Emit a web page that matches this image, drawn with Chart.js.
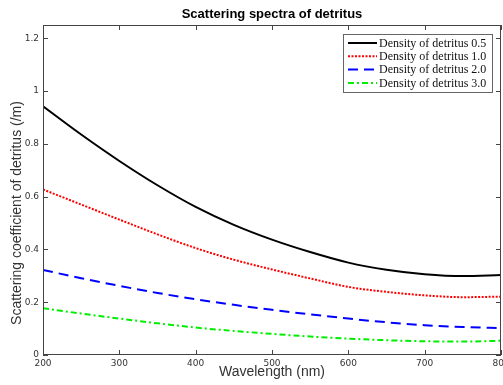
<!DOCTYPE html>
<html>
<head>
<meta charset="utf-8">
<script src="https://cdn.jsdelivr.net/npm/chart.js@4/dist/chart.umd.min.js"></script>
<style>
  html, body { margin: 0; padding: 0; background: #fff; }
  #wrap { width: 503px; height: 385px; }
</style>
</head>
<body>
<div id="wrap"><canvas id="c" width="503" height="385"></canvas></div>
<script>
const wavelengths = [200, 250, 300, 350, 400, 450, 500, 550, 600, 650, 700, 750, 800];
const density05 = [0.942, 0.835, 0.735, 0.643, 0.561, 0.493, 0.437, 0.390, 0.350, 0.323, 0.306, 0.299, 0.303];
const density10 = [0.627, 0.570, 0.513, 0.457, 0.405, 0.361, 0.324, 0.290, 0.258, 0.239, 0.226, 0.219, 0.221];
const density20 = [0.322, 0.291, 0.262, 0.235, 0.211, 0.190, 0.171, 0.154, 0.138, 0.124, 0.113, 0.106, 0.102];
const density30 = [0.177, 0.157, 0.138, 0.120, 0.104, 0.091, 0.080, 0.070, 0.062, 0.056, 0.052, 0.051, 0.054];
const seriesNames = ["Density of detritus 0.5", "Density of detritus 1.0", "Density of detritus 2.0", "Density of detritus 3.0"];
const xTicks = [200, 300, 400, 500, 600, 700, 800];
const yTicks = [0, 0.2, 0.4, 0.6, 0.8, 1, 1.2];

const pts = vals => vals.map((v, i) => ({ x: wavelengths[i], y: v }));
const line = (label, vals, color, dash) => ({
  label, data: pts(vals), borderColor: color, borderWidth: 2, borderDash: dash,
  pointRadius: 0, fill: false, cubicInterpolationMode: "monotone"
});

// matlab-like frame, inward ticks, title, y label and boxed legend
const decor = {
  id: "decor",
  afterDraw(chart) {
    const { ctx, chartArea: a, scales } = chart;
    ctx.save();
    ctx.strokeStyle = "#444"; ctx.lineWidth = 1;
    ctx.strokeRect(a.left + 0.5, a.top + 0.5, a.right - a.left - 1, a.bottom - a.top - 1);
    ctx.beginPath();
    xTicks.forEach(t => {
      const x = Math.round(scales.x.getPixelForValue(t)) + 0.5;
      ctx.moveTo(x, a.bottom); ctx.lineTo(x, a.bottom - 5);
      ctx.moveTo(x, a.top); ctx.lineTo(x, a.top + 5);
    });
    yTicks.forEach(t => {
      const y = Math.round(scales.y.getPixelForValue(t)) + 0.5;
      ctx.moveTo(a.left, y); ctx.lineTo(a.left + 5, y);
      ctx.moveTo(a.right, y); ctx.lineTo(a.right - 5, y);
    });
    ctx.stroke();

    ctx.fillStyle = "#000";
    ctx.font = 'bold 13px "Liberation Sans"';
    ctx.textAlign = "center"; ctx.textBaseline = "middle";
    ctx.fillText("Scattering spectra of detritus", (a.left + a.right) / 2, 14);

    ctx.fillStyle = "#333";
    ctx.font = '14px "Liberation Sans"';
    ctx.translate(17, 213); ctx.rotate(-Math.PI / 2);
    ctx.fillText("Scattering coefficient of detritus (/m)", 0, 0);
    ctx.setTransform(1, 0, 0, 1, 0, 0);

    // legend
    const lx = 343, ly = 34, lw = 149, lh = 58;
    ctx.fillStyle = "#fff"; ctx.fillRect(lx, ly, lw, lh);
    ctx.strokeStyle = "#666"; ctx.strokeRect(lx + 0.5, ly + 0.5, lw, lh);
    ctx.font = '12px "Liberation Serif"';
    ctx.textAlign = "left";
    chart.data.datasets.forEach((ds, i) => {
      const y = 43 + i * 13.3;
      ctx.strokeStyle = ds.borderColor; ctx.lineWidth = 2;
      ctx.setLineDash(ds.borderDash || []);
      ctx.beginPath(); ctx.moveTo(348, y); ctx.lineTo(377, y); ctx.stroke();
      ctx.setLineDash([]);
      ctx.fillStyle = "#111";
      ctx.fillText(ds.label, 379, y + 0.5);
    });
    ctx.restore();
  }
};

new Chart(document.getElementById("c").getContext("2d"), {
  type: "line",
  data: {
    datasets: [
      line(seriesNames[0], density05, "#000000", []),
      line(seriesNames[1], density10, "#ff0000", [2, 1.5]),
      line(seriesNames[2], density20, "#0000ff", [10, 6]),
      line(seriesNames[3], density30, "#00ee00", [6, 3, 2, 3])
    ]
  },
  options: {
    responsive: false, animation: false,
    layout: { padding: { top: 25, right: 2, left: 0, bottom: 0 } },
    plugins: { legend: { display: false }, tooltip: { enabled: false } },
    scales: {
      x: {
        type: "linear", min: 200, max: 800,
        grid: { display: false, drawTicks: false }, border: { display: false },
        ticks: { stepSize: 100, padding: 3, color: "#333", font: { size: 9, family: "DejaVu Sans" } },
        title: { display: true, text: "Wavelength (nm)", color: "#333", padding: { top: 0, bottom: 4 },
                 font: { size: 14, family: "Liberation Sans" } },
        afterBuildTicks: s => { s.ticks = xTicks.map(v => ({ value: v })); },
        afterFit: s => { s.height = 30; s.paddingLeft = 0; s.paddingRight = 0; }
      },
      y: {
        min: 0, max: 1.25,
        grid: { display: false, drawTicks: false }, border: { display: false },
        ticks: { padding: 4, color: "#333", font: { size: 9, family: "DejaVu Sans" },
                 callback: v => String(+v.toFixed(1)) },
        afterBuildTicks: s => { s.ticks = yTicks.map(v => ({ value: v })); },
        afterFit: s => { s.width = 43; s.paddingTop = 0; s.paddingBottom = 0; }
      }
    }
  },
  plugins: [decor]
});
</script>
</body>
</html>
